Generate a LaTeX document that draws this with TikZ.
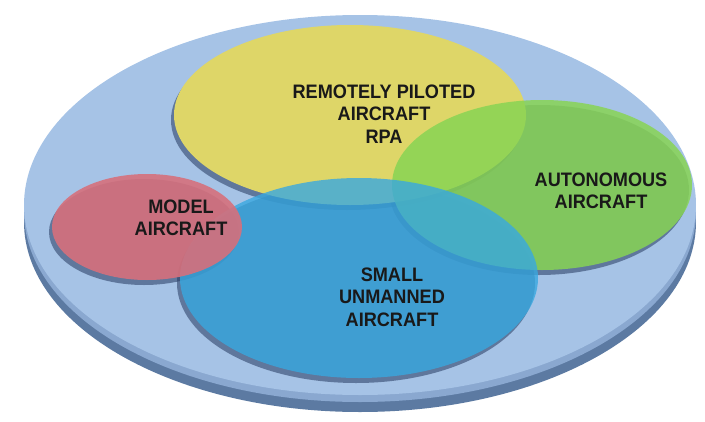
\documentclass[tikz,border=0pt]{standalone}
\usepackage{fontspec}
\setmainfont[FakeStretch=0.93]{Liberation Sans}
\definecolor{discTop}{RGB}{166,195,230}
\definecolor{discMid}{RGB}{138,168,208}
\definecolor{discRim}{RGB}{92,122,162}
\definecolor{rpaYellow}{RGB}{222,214,104}
\definecolor{autoGreen}{RGB}{136,212,84}
\definecolor{suasBlue}{RGB}{56,168,224}
\definecolor{modelRed}{RGB}{214,112,124}
\definecolor{shade}{RGB}{38,58,96}
\tikzset{
  settext/.style={font=\bfseries\fontsize{19.5}{22.5}\selectfont, align=center, text=black!90, inner sep=0pt},
  dropshadow/.style={fill=shade, opacity=.55, shift={(-3,5)}},
}
\begin{document}
\begin{tikzpicture}[x=1pt,y=-1pt]
        \useasboundingbox (0,0) rectangle (705,421);
        \def\discellipse{(360,205) ellipse (336 and 190)}
        \def\rpaellipse{(350,115) ellipse (176 and 90)}
        \def\autoellipse{(542,185) ellipse (150 and 85)}
        \def\suasellipse{(359,278) ellipse (179 and 100)}
        \def\modelellipse{(147,227) ellipse (95 and 53)}

        % disc with its rim
        \fill[discRim] (360,222) ellipse (336 and 190);
        \fill[discMid] (360,212) ellipse (336 and 190);
        \fill[discTop] \discellipse;

        % shadows of ellipses
        \fill[dropshadow] \rpaellipse;
        \fill[dropshadow] \autoellipse;
        \fill[dropshadow] \suasellipse;
        \fill[dropshadow] \modelellipse;

        % colour ellipses
        \fill[rpaYellow] \rpaellipse;
        \fill[autoGreen, opacity=.85] \autoellipse;
        \fill[suasBlue, opacity=.8] \suasellipse;
        \fill[modelRed, opacity=.9] \modelellipse;

        \node[settext] (rpa) at (384,114) {REMOTELY PILOTED\\AIRCRAFT\\RPA};
        \node[settext] (model) at (181,218) {MODEL\\AIRCRAFT};
        \node[settext] (auto) at (601,191) {AUTONOMOUS\\AIRCRAFT};
        \node[settext] (suas) at (392,297) {SMALL\\UNMANNED\\AIRCRAFT};
      \end{tikzpicture}
\end{document}
